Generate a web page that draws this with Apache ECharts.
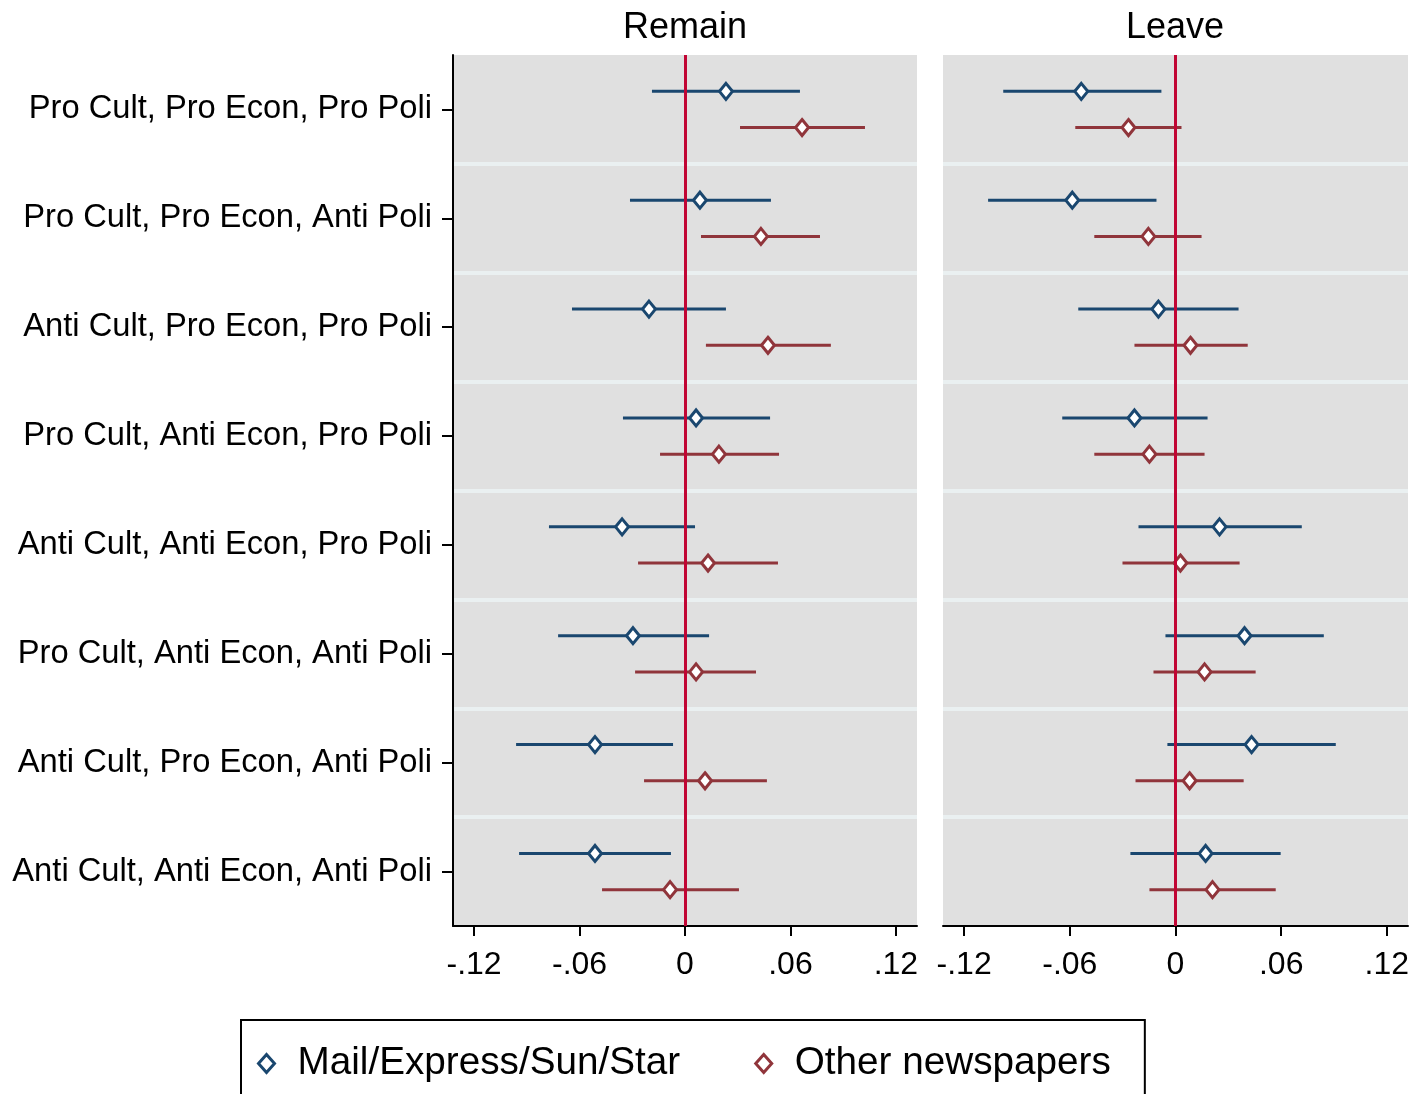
<!DOCTYPE html>
<html>
<head>
<meta charset="utf-8">
<script src="https://cdn.jsdelivr.net/npm/echarts@6/dist/echarts.min.js"></script>
<style>
  html, body { margin: 0; padding: 0; background: #ffffff; }
  #chart { width: 1420px; height: 1094px; }
</style>
</head>
<body>
<div id="chart"></div>
<script>
// Framing categories, top to bottom
const categories = [
  'Pro Cult, Pro Econ, Pro Poli',
  'Pro Cult, Pro Econ, Anti Poli',
  'Anti Cult, Pro Econ, Pro Poli',
  'Pro Cult, Anti Econ, Pro Poli',
  'Anti Cult, Anti Econ, Pro Poli',
  'Pro Cult, Anti Econ, Anti Poli',
  'Anti Cult, Pro Econ, Anti Poli',
  'Anti Cult, Anti Econ, Anti Poli'
];

const panelTitles = ['Remain', 'Leave'];
const seriesNames = ['Mail/Express/Sun/Star', 'Other newspapers'];

// Coefficient estimates with 95% interval: [lower, estimate, upper]
const remainMail = [
  [-0.0188, 0.0233, 0.0654],
  [-0.0313, 0.0085, 0.0489],
  [-0.0643, -0.0205, 0.0233],
  [-0.0353, 0.0063, 0.0484],
  [-0.0774, -0.0358, 0.0057],
  [-0.0722, -0.0296, 0.0137],
  [-0.0961, -0.0512, -0.0068],
  [-0.0944, -0.0512, -0.0080]
];
const remainOther = [
  [0.0313, 0.0666, 0.1024],
  [0.0091, 0.0432, 0.0768],
  [0.0119, 0.0472, 0.0830],
  [-0.0142, 0.0193, 0.0535],
  [-0.0267, 0.0131, 0.0529],
  [-0.0284, 0.0063, 0.0404],
  [-0.0233, 0.0114, 0.0466],
  [-0.0472, -0.0085, 0.0307]
];
const leaveMail = [
  [-0.0978, -0.0535, -0.0080],
  [-0.1064, -0.0586, -0.0108],
  [-0.0552, -0.0097, 0.0358],
  [-0.0643, -0.0233, 0.0182],
  [-0.0210, 0.0250, 0.0717],
  [-0.0057, 0.0392, 0.0842],
  [-0.0046, 0.0432, 0.0910],
  [-0.0256, 0.0171, 0.0597]
];
const leaveOther = [
  [-0.0569, -0.0267, 0.0034],
  [-0.0461, -0.0154, 0.0148],
  [-0.0233, 0.0085, 0.0410],
  [-0.0461, -0.0148, 0.0165],
  [-0.0301, 0.0028, 0.0364],
  [-0.0125, 0.0165, 0.0455],
  [-0.0227, 0.0080, 0.0387],
  [-0.0148, 0.0210, 0.0569]
];

// x-axis tick positions and their printed labels
const tickValues = [-0.12, -0.06, 0, 0.06, 0.12];
const tickLabels = ['-.12', '-.06', '0', '.06', '.12'];

const FONT = '"Liberation Sans", Arial, Helvetica, sans-serif';
const BLUE = '#1a476f';
const RED = '#90353b';
const ZERO = '#c10534';
const PANEL_BG = '#e0e0e0';
const SEP = '#eaf0f1';

// Horizontal CI bar with a hollow diamond at the estimate.
// side = -1 draws above the category centre, +1 below.
function ciRenderer(color, side) {
  return function (params, api) {
    const cat = api.value(0);
    const lo = api.coord([api.value(1), cat]);
    const est = api.coord([api.value(2), cat]);
    const hi = api.coord([api.value(3), cat]);
    const band = api.size([0, 1])[1];
    const y = est[1] + side * band * 0.166;
    const rx = 6.5, ry = 8;
    return {
      type: 'group',
      children: [
        {
          type: 'line',
          shape: { x1: lo[0], y1: y, x2: hi[0], y2: y },
          style: { stroke: color, lineWidth: 3 }
        },
        {
          type: 'polygon',
          shape: { points: [[est[0], y - ry], [est[0] + rx, y], [est[0], y + ry], [est[0] - rx, y]] },
          style: { fill: '#ffffff', stroke: color, lineWidth: 3, lineJoin: 'miter' }
        }
      ]
    };
  };
}

function toData(rows) {
  return rows.map((r, i) => [i, r[0], r[1], r[2]]);
}

function makeX(gridIndex) {
  return {
    type: 'value',
    gridIndex: gridIndex,
    min: -0.132,
    max: 0.132,
    axisLine: { show: true, onZero: false, lineStyle: { color: '#000', width: 2 } },
    axisTick: { show: true, length: 10, customValues: tickValues, lineStyle: { color: '#000', width: 2 } },
    axisLabel: {
      show: true,
      customValues: tickValues,
      margin: 23,
      color: '#000',
      fontFamily: FONT,
      fontSize: 32,
      formatter: function (v) {
        const i = tickValues.findIndex(t => Math.abs(t - v) < 1e-9);
        return i >= 0 ? tickLabels[i] : '';
      }
    },
    splitLine: { show: false }
  };
}

function makeY(gridIndex, showLabels) {
  return {
    type: 'category',
    gridIndex: gridIndex,
    data: categories,
    inverse: true,
    boundaryGap: true,
    axisLine: { show: showLabels, onZero: false, lineStyle: { color: '#000', width: 2 } },
    axisTick: { show: showLabels, alignWithLabel: true, length: 11, lineStyle: { color: '#000', width: 2 } },
    axisLabel: {
      show: showLabels,
      margin: 21,
      color: '#000',
      fontFamily: FONT,
      fontSize: 32.7
    },
    splitLine: {
      show: true,
      showMinLine: false,
      showMaxLine: false,
      lineStyle: { color: SEP, width: 4 }
    }
  };
}

function zeroLine() {
  return {
    silent: true,
    symbol: 'none',
    z: 6,
    label: { show: false },
    lineStyle: { color: ZERO, width: 3, type: 'solid' },
    data: [{ xAxis: 0 }]
  };
}

function ciSeries(name, rows, gridIndex, color, side, withZero) {
  const s = {
    name: name,
    type: 'custom',
    xAxisIndex: gridIndex,
    yAxisIndex: gridIndex,
    renderItem: ciRenderer(color, side),
    encode: { x: [1, 2, 3], y: 0 },
    data: toData(rows),
    z: 3
  };
  if (withZero) s.markLine = zeroLine();
  return s;
}

const chart = echarts.init(document.getElementById('chart'), null, { renderer: 'canvas' });

const titleText = { fontFamily: FONT, fontSize: 36, fontWeight: 'normal', color: '#000' };

chart.setOption({
  backgroundColor: '#ffffff',
  animation: false,
  textStyle: { fontFamily: FONT },
  title: [
    { text: panelTitles[0], left: 685, top: 10, padding: 0, textAlign: 'center', textStyle: titleText },
    { text: panelTitles[1], left: 1175, top: 10, padding: 0, textAlign: 'center', textStyle: titleText }
  ],
  grid: [
    { left: 453, top: 55, width: 464, height: 871, show: true, backgroundColor: PANEL_BG, borderWidth: 0 },
    { left: 943, top: 55, width: 465, height: 871, show: true, backgroundColor: PANEL_BG, borderWidth: 0 }
  ],
  xAxis: [makeX(0), makeX(1)],
  yAxis: [makeY(0, true), makeY(1, false)],
  legend: {
    left: 241,
    top: 1020,
    orient: 'horizontal',
    padding: [24, 34, 40, 16],
    borderColor: '#000',
    borderWidth: 2,
    backgroundColor: '#ffffff',
    itemWidth: 16,
    itemHeight: 18,
    itemGap: 74,
    textStyle: { fontFamily: FONT, fontSize: 38.7, color: '#000', padding: [0, 0, 0, 18] },
    data: [
      { name: seriesNames[0], icon: 'diamond', itemStyle: { color: '#ffffff', borderColor: BLUE, borderWidth: 3 } },
      { name: seriesNames[1], icon: 'diamond', itemStyle: { color: '#ffffff', borderColor: RED, borderWidth: 3 } }
    ]
  },
  series: [
    ciSeries(seriesNames[0], remainMail, 0, BLUE, -1, true),
    ciSeries(seriesNames[1], remainOther, 0, RED, 1, false),
    ciSeries(seriesNames[0], leaveMail, 1, BLUE, -1, true),
    ciSeries(seriesNames[1], leaveOther, 1, RED, 1, false)
  ]
});
</script>
</body>
</html>
